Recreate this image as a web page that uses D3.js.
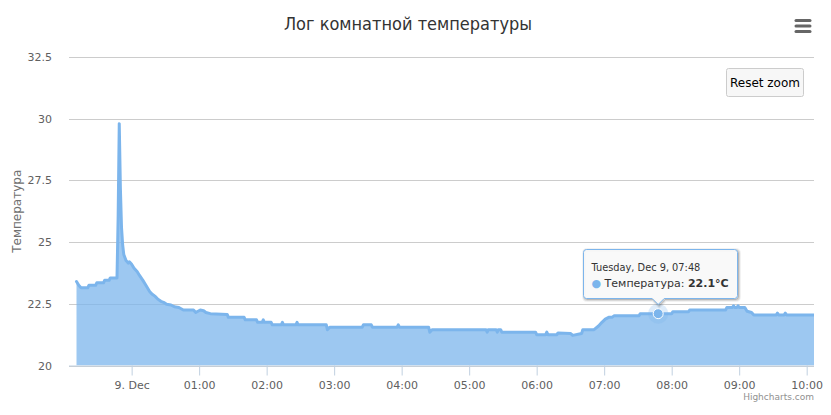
<!DOCTYPE html>
<html lang="ru">
<head>
  <meta charset="UTF-8">
  <title>Лог комнатной температуры</title>
  <style>
    body { margin: 0; background: #fff; }
    svg { display: block; font-family: "DejaVu Sans", Verdana, sans-serif; }
  </style>
</head>
<body>
<script src="https://d3js.org/d3.v7.min.js"></script>
<script type="text/javascript">

  // readings, evening of Dec 8 (time, °C)
  var dec8Times = ["23:11", "23:13", "23:15", "23:21", "23:22", "23:28", "23:29", "23:35", "23:36", "23:40",
    "23:41", "23:47", "23:48", "23:49", "23:50", "23:51", "23:52", "23:53", "23:55", "23:57", "23:58"];
  var dec8Temps = [23.4, 23.25, 23.15, 23.15, 23.25, 23.25, 23.35, 23.35, 23.45, 23.45,
    23.55, 23.55, 26.0, 29.8, 27.2, 25.6, 24.9, 24.5, 24.25, 24.15, 24.2];

  // readings, Dec 9
  var dec9Times = ["00:00", "00:02", "00:05", "00:07", "00:10", "00:12", "00:14", "00:16", "00:18", "00:21",
    "00:23", "00:26", "00:29", "00:31", "00:35", "00:38", "00:42", "00:44", "00:46", "00:55",
    "00:57", "00:59", "01:01", "01:04", "01:06", "01:10", "01:25", "01:26", "01:40", "01:41",
    "01:51", "01:52", "01:56", "01:57", "01:58", "02:04", "02:05", "02:13", "02:14", "02:15",
    "02:26", "02:27", "02:28", "02:53", "02:54", "02:56", "03:25", "03:26", "03:33", "03:34",
    "03:56", "03:57", "03:58", "04:24", "04:25", "04:27", "05:15", "05:16", "05:17", "05:24",
    "05:25", "05:26", "05:28", "05:29", "05:59", "06:00", "06:08", "06:09", "06:10", "06:18",
    "06:19", "06:30", "06:32", "06:40", "06:41", "06:51", "06:55", "06:58", "07:01", "07:04",
    "07:07", "07:09", "07:31", "07:32", "07:48", "08:00", "08:01", "08:15", "08:16", "08:48",
    "08:49", "08:54", "08:55", "08:56", "08:58", "08:59", "09:00", "09:05", "09:07", "09:11",
    "09:13", "09:33", "09:34", "09:35", "09:40", "09:41", "09:42", "10:07"];
  var dec9Temps = [24.1, 23.95, 23.8, 23.65, 23.45, 23.3, 23.15, 23.0, 22.9, 22.8,
    22.7, 22.6, 22.55, 22.48, 22.45, 22.38, 22.35, 22.3, 22.25, 22.25,
    22.15, 22.2, 22.25, 22.22, 22.15, 22.1, 22.07, 21.95, 21.95, 21.85,
    21.85, 21.75, 21.75, 21.85, 21.75, 21.75, 21.65, 21.65, 21.75, 21.65,
    21.65, 21.75, 21.65, 21.65, 21.45, 21.55, 21.55, 21.65, 21.65, 21.55,
    21.55, 21.65, 21.55, 21.55, 21.35, 21.45, 21.45, 21.35, 21.45, 21.45,
    21.35, 21.45, 21.45, 21.35, 21.35, 21.25, 21.25, 21.35, 21.25, 21.25,
    21.32, 21.3, 21.22, 21.3, 21.45, 21.45, 21.6, 21.75, 21.88, 21.95,
    21.95, 22.02, 22.02, 22.1, 22.1, 22.1, 22.18, 22.18, 22.25, 22.25,
    22.35, 22.35, 22.42, 22.35, 22.35, 22.42, 22.35, 22.35, 22.2, 22.15,
    22.05, 22.05, 22.12, 22.05, 22.05, 22.12, 22.05, 22.05];

  var yTicks = [20, 22.5, 25, 27.5, 30, 32.5];
  var xStart = "2014-12-08 23:04:20";
  var xEnd = "2014-12-09 10:06:30";
  var hoverTime = "2014-12-09 07:48";
  var hoverTemp = 22.1;

  var titleText = "Лог комнатной температуры";
  var yTitle = "Температура";
  var seriesName = "Температура";

  var width = 831, height = 415;
  var plot = { left: 69, right: 814, top: 57, bottom: 365.5 };
  var color = "#7cb5ec";

  var parse = d3.timeParse("%Y-%m-%d %H:%M");
  var parseS = d3.timeParse("%Y-%m-%d %H:%M:%S");

  var data = dec8Times.map(function(t, i) {
    return { t: parse("2014-12-08 " + t), v: dec8Temps[i] };
  }).concat(dec9Times.map(function(t, i) {
    return { t: parse("2014-12-09 " + t), v: dec9Temps[i] };
  }));

  var svg = d3.select("body").append("svg")
    .attr("width", width)
    .attr("height", height);

  var x = d3.scaleTime()
    .domain([parseS(xStart), parseS(xEnd)])
    .range([plot.left, plot.right]);

  var y = d3.scaleLinear()
    .domain([20, 32.5])
    .range([plot.bottom, plot.top]);

  // title
  svg.append("text")
    .attr("x", 408)
    .attr("y", 30)
    .attr("text-anchor", "middle")
    .style("font-family", "'DejaVu Sans Condensed', 'DejaVu Sans', sans-serif")
    .style("font-size", "18px")
    .style("fill", "#333333")
    .text(titleText);

  // y grid + labels
  var yAxis = d3.axisLeft(y)
    .tickValues(yTicks)
    .tickSize(-(plot.right - plot.left))
    .tickPadding(17)
    .tickFormat(function(d) { return String(d); });

  var gy = svg.append("g")
    .attr("transform", "translate(" + plot.left + ",0)")
    .call(yAxis);
  gy.select(".domain").remove();
  gy.selectAll(".tick line").attr("stroke", "#cccccc").attr("shape-rendering", "crispEdges");
  gy.selectAll(".tick text")
    .style("font-size", "11px")
    .style("fill", "#606060")
    .style("font-family", "'DejaVu Sans', sans-serif");

  svg.append("text")
    .attr("transform", "translate(21," + ((plot.top + plot.bottom) / 2) + ") rotate(-90)")
    .attr("text-anchor", "middle")
    .style("font-size", "12px")
    .style("fill", "#707070")
    .text(yTitle);

  // area + line
  svg.append("clipPath").attr("id", "clip")
    .append("rect")
    .attr("x", plot.left).attr("y", plot.top - 5)
    .attr("width", plot.right - plot.left).attr("height", plot.bottom - plot.top + 5);

  var area = d3.area()
    .x(function(d) { return x(d.t); })
    .y0(y(20))
    .y1(function(d) { return y(d.v); });

  var line = d3.line()
    .x(function(d) { return x(d.t); })
    .y(function(d) { return y(d.v); });

  var g = svg.append("g").attr("clip-path", "url(#clip)");
  g.append("path").datum(data)
    .attr("d", area)
    .attr("fill", color)
    .attr("fill-opacity", 0.75);
  g.append("path").datum(data)
    .attr("d", line)
    .attr("fill", "none")
    .attr("stroke", color)
    .attr("stroke-width", 3)
    .attr("stroke-linejoin", "round")
    .attr("stroke-linecap", "round");

  // x axis
  var xAxis = d3.axisBottom(x)
    .ticks(d3.timeHour.every(1))
    .tickSize(10)
    .tickPadding(6)
    .tickFormat(function(d) {
      return d.getHours() === 0 ? d.getDate() + ". Dec" : d3.timeFormat("%H:%M")(d);
    });

  var gx = svg.append("g")
    .attr("transform", "translate(0," + plot.bottom + ")")
    .call(xAxis);
  gx.select(".domain").attr("stroke", "#C0D0E0").attr("d", "M" + plot.left + ",0.5H" + plot.right);
  gx.selectAll(".tick line").attr("stroke", "#C0D0E0");
  gx.selectAll(".tick text")
    .style("font-size", "11px")
    .style("fill", "#606060")
    .style("font-family", "'DejaVu Sans', sans-serif");

  // hovered point
  var hx = x(parse(hoverTime)), hy = y(hoverTemp);
  svg.append("circle").attr("cx", hx).attr("cy", hy).attr("r", 10)
    .attr("fill", color).attr("fill-opacity", 0.25);
  svg.append("circle").attr("cx", hx).attr("cy", hy).attr("r", 5)
    .attr("fill", color).attr("stroke", "#fff").attr("stroke-width", 1);

  // tooltip
  var tw = 154, th = 49;
  var tx = Math.round(hx - 75.5) + 0.5, ty = 249.5;
  var r = 3, ax = hx;
  var tip = "M" + (tx + r) + "," + ty +
    "H" + (tx + tw - r) + "Q" + (tx + tw) + "," + ty + " " + (tx + tw) + "," + (ty + r) +
    "V" + (ty + th - r) + "Q" + (tx + tw) + "," + (ty + th) + " " + (tx + tw - r) + "," + (ty + th) +
    "H" + (ax + 6) + "L" + ax + "," + (ty + th + 6) + "L" + (ax - 6) + "," + (ty + th) +
    "H" + (tx + r) + "Q" + tx + "," + (ty + th) + " " + tx + "," + (ty + th - r) +
    "V" + (ty + r) + "Q" + tx + "," + ty + " " + (tx + r) + "," + ty + "Z";

  var tg = svg.append("g");
  [[5, 0.05], [3, 0.1], [1, 0.15]].forEach(function(s) {
    tg.append("path").attr("d", tip)
      .attr("transform", "translate(1,1)")
      .attr("fill", "none")
      .attr("stroke", "#000")
      .attr("stroke-opacity", s[1])
      .attr("stroke-width", s[0]);
  });
  tg.append("path").attr("d", tip)
    .attr("fill", "rgba(249,249,249,0.95)")
    .attr("stroke", color)
    .attr("stroke-width", 1);

  tg.append("text")
    .attr("x", tx + 8)
    .attr("y", ty + 21)
    .style("font-size", "9.8px")
    .style("fill", "#333333")
    .text(d3.timeFormat("%A, %b %-d, %H:%M")(parse(hoverTime)));

  var t2 = tg.append("text")
    .attr("x", tx + 8)
    .attr("y", ty + 37)
    .style("font-size", "11px")
    .style("fill", "#333333");
  t2.append("tspan").style("fill", color).text("●");
  t2.append("tspan").text(" " + seriesName + ": ");
  t2.append("tspan").style("font-weight", "bold").text(hoverTemp + "°C");

  // reset zoom button
  var bg = svg.append("g").attr("transform", "translate(726.5,68.5)");
  bg.append("rect")
    .attr("width", 77).attr("height", 28)
    .attr("rx", 2).attr("ry", 2)
    .attr("fill", "#f7f7f7")
    .attr("stroke", "#cccccc");
  bg.append("text")
    .attr("x", 38.5).attr("y", 18)
    .attr("text-anchor", "middle")
    .style("font-size", "12px")
    .style("fill", "#000")
    .text("Reset zoom");

  // context menu icon
  var menu = svg.append("g").attr("stroke", "#666666").attr("stroke-width", 3).attr("stroke-linecap", "round");
  [20.5, 26, 31.5].forEach(function(yy) {
    menu.append("line").attr("x1", 796).attr("x2", 810).attr("y1", yy).attr("y2", yy);
  });

  // credits
  svg.append("text")
    .attr("x", 814)
    .attr("y", 400)
    .attr("text-anchor", "end")
    .style("font-size", "9px")
    .style("fill", "#909090")
    .text("Highcharts.com");

</script>
</body>
</html>
